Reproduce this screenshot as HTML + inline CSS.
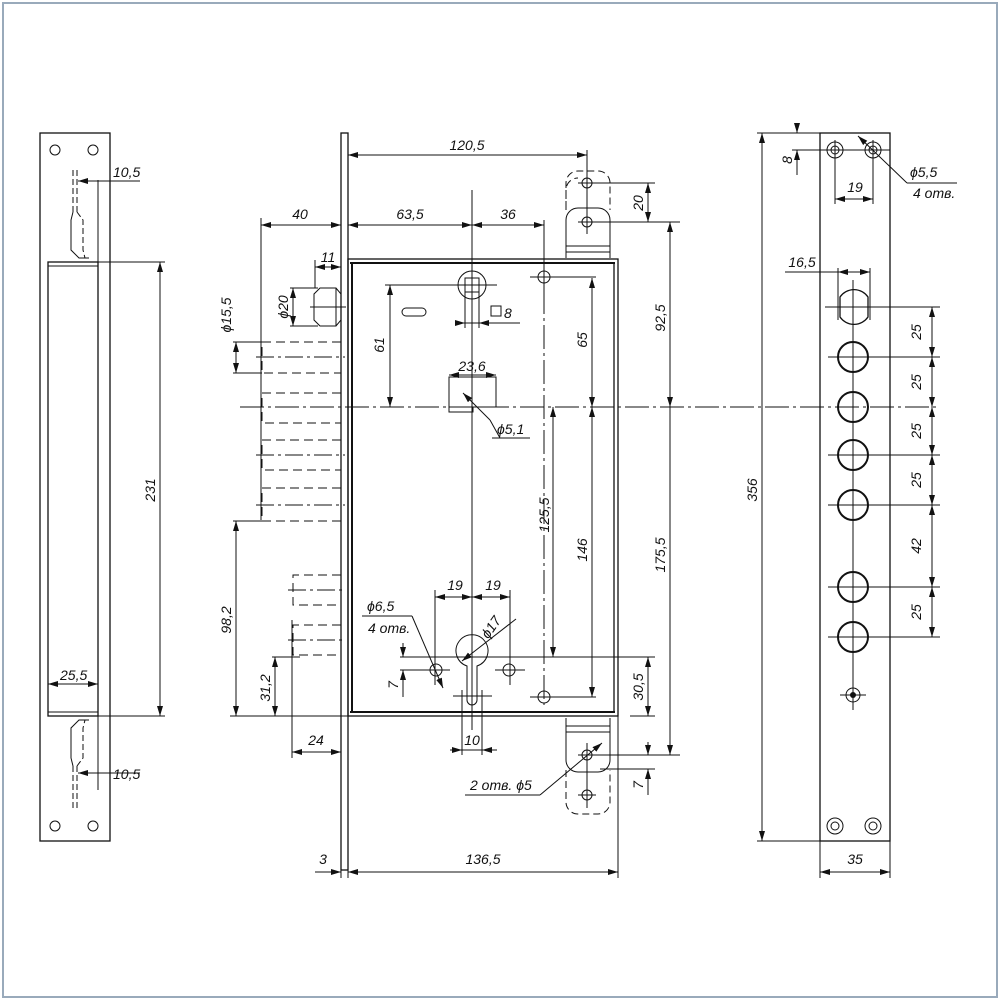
<!DOCTYPE html>
<html><head><meta charset="utf-8"><style>
html,body{margin:0;padding:0;background:#fff}
svg{display:block}
text{font-family:"Liberation Sans",sans-serif;font-style:italic;font-size:14px;fill:#111}
</style></head><body>
<svg width="1000" height="1000" viewBox="0 0 1000 1000" xmlns="http://www.w3.org/2000/svg">
<defs>
<marker id="a" viewBox="0 0 10 6" refX="10" refY="3" markerWidth="10" markerHeight="6" orient="auto-start-reverse" markerUnits="userSpaceOnUse"><path d="M0,0L10,3L0,6z" fill="#111"/></marker>
</defs>
<rect x="3" y="3" width="994" height="994" fill="none" stroke="#9ab" stroke-width="2"/>
<g fill="none" stroke="#111" stroke-width="1">
<!-- LEFT STRIP -->
<rect x="40" y="133" width="70" height="708" stroke-width="1.3"/>
<circle cx="55" cy="150" r="5"/><circle cx="93" cy="150" r="5"/>
<circle cx="55" cy="826" r="5"/><circle cx="93" cy="826" r="5"/>
<line x1="98" y1="180" x2="98" y2="790"/>
<rect x="48" y="262" width="50" height="454" stroke-width="1.3"/>
<line x1="48" y1="266" x2="98" y2="266"/><line x1="48" y1="712" x2="98" y2="712"/>
<path d="M73 170V212" stroke-dasharray="6 3"/><path d="M77 170V212" stroke-dasharray="6 3"/>
<path d="M73 212l-2 8V250l8 8h10" /><path d="M77 212l6 8V250l2 8" stroke-dasharray="6 3"/>
<path d="M73 808V766" stroke-dasharray="6 3"/><path d="M77 808V766" stroke-dasharray="6 3"/>
<path d="M73 766l-2 -8V728l8 -8h10"/><path d="M77 766l6 -8V728l2 -8" stroke-dasharray="6 3"/>
<line x1="98" y1="262" x2="165" y2="262"/><line x1="98" y1="716" x2="165" y2="716"/>
<line x1="160" y1="262" x2="160" y2="716" marker-start="url(#a)" marker-end="url(#a)"/>
<line x1="78" y1="181" x2="98" y2="181" marker-start="url(#a)"/><line x1="98" y1="181" x2="140" y2="181"/>
<line x1="78" y1="773" x2="98" y2="773" marker-start="url(#a)"/><line x1="98" y1="773" x2="140" y2="773"/>
<line x1="48" y1="684" x2="98" y2="684" marker-start="url(#a)" marker-end="url(#a)"/>
<!-- FACEPLATE + BOX -->
<rect x="341" y="133" width="7" height="737" stroke-width="1.3"/>
<rect x="348" y="259" width="270" height="457" stroke-width="1.3"/>
<line x1="352" y1="263" x2="352" y2="712" stroke-width="2"/><line x1="614" y1="263" x2="614" y2="712" stroke-width="1.3"/>
<line x1="350" y1="263" x2="615" y2="263" stroke-width="2"/><line x1="350" y1="712" x2="615" y2="712" stroke-width="2"/>
<!-- top dims -->
<line x1="587" y1="150" x2="587" y2="185"/>
<line x1="348" y1="155" x2="587" y2="155" marker-start="url(#a)" marker-end="url(#a)"/>
<line x1="261" y1="218" x2="261" y2="520"/>
<line x1="261" y1="225" x2="341" y2="225" marker-start="url(#a)" marker-end="url(#a)"/>
<line x1="348" y1="225" x2="472" y2="225" marker-start="url(#a)" marker-end="url(#a)"/>
<line x1="472" y1="225" x2="544" y2="225" marker-start="url(#a)" marker-end="url(#a)"/>
<line x1="544" y1="220" x2="544" y2="290"/>
<line x1="315" y1="260" x2="315" y2="288"/>
<line x1="315" y1="267" x2="341" y2="267" marker-start="url(#a)" marker-end="url(#a)"/>
<path d="M320 288h16l5 6v26l-5 6h-16l-6-6v-26z"/><line x1="336" y1="288" x2="336" y2="326"/>
<line x1="310" y1="307" x2="346" y2="307"/>
<line x1="290" y1="288" x2="318" y2="288"/><line x1="290" y1="326" x2="318" y2="326"/>
<line x1="293" y1="288" x2="293" y2="326" marker-start="url(#a)" marker-end="url(#a)"/>
<!-- spindle -->
<circle cx="472" cy="285" r="14"/><rect x="465" y="278" width="14" height="14"/>
<line x1="465" y1="292" x2="465" y2="328"/><line x1="479" y1="292" x2="479" y2="328"/>
<line x1="385" y1="285" x2="497" y2="285"/>
<line x1="455" y1="323" x2="465" y2="323" marker-end="url(#a)"/><line x1="465" y1="323" x2="479" y2="323"/><line x1="479" y1="323" x2="520" y2="323" marker-start="url(#a)"/>
<rect x="491" y="306" width="10" height="10"/>
<rect x="402" y="308" width="24" height="8" rx="4"/>
<line x1="390" y1="285" x2="390" y2="407" marker-start="url(#a)" marker-end="url(#a)"/>
<circle cx="544" cy="277" r="6"/><line x1="530" y1="277" x2="596" y2="277"/>
<line x1="592" y1="278" x2="592" y2="407" marker-start="url(#a)" marker-end="url(#a)"/>
<rect x="449" y="377" width="47" height="30"/><rect x="449" y="407" width="24" height="5"/>
<line x1="449" y1="375" x2="496" y2="375" marker-start="url(#a)" marker-end="url(#a)"/>
<line x1="463" y1="393" x2="490" y2="420" marker-start="url(#a)"/><line x1="490" y1="420" x2="500" y2="438"/><line x1="492" y1="438" x2="530" y2="438"/>
<line x1="472" y1="190" x2="472" y2="730"/>
<line x1="240" y1="407" x2="940" y2="407" stroke-dasharray="24 4 3 4"/>
<line x1="544" y1="290" x2="544" y2="705" stroke-dasharray="24 4 3 4"/>
<!-- bolts -->
<g stroke-dasharray="9 5">
<path d="M341 342H262V373H341"/><path d="M341 393H262V423H341"/><path d="M341 440H262V470H341"/><path d="M341 488H262V521H341"/>
<path d="M341 575H293V605H341"/><path d="M341 625H293V655H341"/>
</g>
<g stroke-dasharray="18 4 3 4"><line x1="256" y1="357" x2="345" y2="357"/><line x1="256" y1="455" x2="345" y2="455"/><line x1="256" y1="505" x2="345" y2="505"/><line x1="288" y1="590" x2="345" y2="590"/><line x1="288" y1="640" x2="345" y2="640"/></g>
<line x1="233" y1="342" x2="262" y2="342"/><line x1="233" y1="373" x2="262" y2="373"/>
<line x1="236" y1="342" x2="236" y2="373" marker-start="url(#a)" marker-end="url(#a)"/>
<line x1="233" y1="521" x2="262" y2="521"/>
<line x1="236" y1="521" x2="236" y2="716" marker-start="url(#a)" marker-end="url(#a)"/>
<line x1="230" y1="716" x2="348" y2="716"/>
<line x1="272" y1="657" x2="300" y2="657"/>
<line x1="275" y1="657" x2="275" y2="716" marker-start="url(#a)" marker-end="url(#a)"/>
<line x1="292" y1="620" x2="292" y2="758"/>
<line x1="292" y1="752" x2="341" y2="752" marker-start="url(#a)" marker-end="url(#a)"/>
<!-- cylinder -->
<path d="M467 666A16 16 0 1 1 477 666V700A5 5 0 0 1 467 700Z"/>
<line x1="453" y1="696" x2="492" y2="696"/>
<line x1="462" y1="690" x2="462" y2="755"/><line x1="482" y1="690" x2="482" y2="755"/>
<line x1="450" y1="750" x2="462" y2="750" marker-end="url(#a)"/><line x1="482" y1="750" x2="497" y2="750" marker-start="url(#a)"/><line x1="462" y1="750" x2="482" y2="750"/>
<circle cx="436" cy="670" r="6"/><circle cx="509" cy="670" r="6"/>
<line x1="400" y1="670" x2="450" y2="670"/><line x1="495" y1="670" x2="525" y2="670"/>
<line x1="435" y1="590" x2="435" y2="685"/><line x1="510" y1="590" x2="510" y2="685"/>
<line x1="435" y1="597" x2="472" y2="597" marker-start="url(#a)" marker-end="url(#a)"/>
<line x1="472" y1="597" x2="510" y2="597" marker-start="url(#a)" marker-end="url(#a)"/>
<line x1="462" y1="661" x2="516" y2="619" marker-start="url(#a)"/>
<line x1="362" y1="616" x2="412" y2="616"/><line x1="412" y1="616" x2="443" y2="688" marker-end="url(#a)"/>
<line x1="400" y1="657" x2="655" y2="657"/>
<line x1="403" y1="643" x2="403" y2="657" marker-end="url(#a)"/><line x1="403" y1="670" x2="403" y2="697" marker-start="url(#a)"/>
<circle cx="544" cy="697" r="6"/><line x1="530" y1="697" x2="596" y2="697"/>
<line x1="553" y1="407" x2="553" y2="657" marker-start="url(#a)" marker-end="url(#a)"/>
<line x1="592" y1="407" x2="592" y2="697" marker-start="url(#a)" marker-end="url(#a)"/>
<line x1="630" y1="716" x2="655" y2="716"/>
<line x1="648" y1="657" x2="648" y2="716" marker-start="url(#a)" marker-end="url(#a)"/>
<!-- strike tabs -->
<path d="M566 208V190a12 12 0 0 1 12-12" stroke-dasharray="7 4"/>
<path d="M566 210V183a12 12 0 0 1 12-12h20a12 12 0 0 1 12 12V210" stroke-dasharray="7 4"/>
<path d="M566 258V220a12 12 0 0 1 12-12h20a12 12 0 0 1 12 12V258"/>
<line x1="566" y1="246" x2="610" y2="246"/><line x1="566" y1="252" x2="610" y2="252"/>
<circle cx="587" cy="183" r="5"/><circle cx="587" cy="222" r="5"/>
<line x1="587" y1="172" x2="587" y2="234"/>
<line x1="578" y1="183" x2="655" y2="183"/><line x1="578" y1="222" x2="680" y2="222"/>
<line x1="648" y1="183" x2="648" y2="222" marker-start="url(#a)" marker-end="url(#a)"/>
<line x1="670" y1="222" x2="670" y2="407" marker-start="url(#a)" marker-end="url(#a)"/>
<line x1="670" y1="407" x2="670" y2="755" marker-end="url(#a)"/>
<path d="M566 718V760a12 12 0 0 0 12 12h20a12 12 0 0 0 12-12V718"/>
<line x1="566" y1="726" x2="610" y2="726"/><line x1="566" y1="732" x2="610" y2="732"/>
<path d="M566 770V802a12 12 0 0 0 12 12h20a12 12 0 0 0 12-12V770" stroke-dasharray="7 4"/>
<circle cx="587" cy="755" r="5"/><circle cx="587" cy="795" r="5"/>
<line x1="587" y1="743" x2="587" y2="808"/><line x1="578" y1="795" x2="596" y2="795"/>
<line x1="578" y1="755" x2="680" y2="755"/><line x1="600" y1="769" x2="655" y2="769"/>
<line x1="648" y1="742" x2="648" y2="755" marker-end="url(#a)"/><line x1="648" y1="769" x2="648" y2="795" marker-start="url(#a)"/>
<line x1="465" y1="795" x2="540" y2="795"/><line x1="540" y1="795" x2="602" y2="743" marker-end="url(#a)"/>
<!-- bottom dims -->
<line x1="618" y1="716" x2="618" y2="878"/><line x1="348" y1="716" x2="348" y2="878"/><line x1="341" y1="870" x2="341" y2="878"/>
<line x1="315" y1="872" x2="341" y2="872" marker-end="url(#a)"/>
<line x1="348" y1="872" x2="618" y2="872" marker-start="url(#a)" marker-end="url(#a)"/>
<!-- RIGHT STRIP -->
<rect x="820" y="133" width="70" height="708" stroke-width="1.3"/>
<circle cx="835" cy="150" r="8"/><circle cx="835" cy="150" r="4"/><circle cx="873" cy="150" r="8"/><circle cx="873" cy="150" r="4"/>
<circle cx="835" cy="826" r="8"/><circle cx="835" cy="826" r="4"/><circle cx="873" cy="826" r="8"/><circle cx="873" cy="826" r="4"/>
<line x1="757" y1="133" x2="820" y2="133"/><line x1="757" y1="841" x2="820" y2="841"/>
<line x1="762" y1="133" x2="762" y2="841" marker-start="url(#a)" marker-end="url(#a)"/>
<line x1="792" y1="150" x2="890" y2="150"/>
<line x1="797" y1="123" x2="797" y2="133" marker-end="url(#a)"/><line x1="797" y1="150" x2="797" y2="175" marker-start="url(#a)"/>
<line x1="835" y1="140" x2="835" y2="204"/><line x1="873" y1="140" x2="873" y2="204"/>
<line x1="835" y1="199" x2="873" y2="199" marker-start="url(#a)" marker-end="url(#a)"/>
<line x1="858" y1="136" x2="907" y2="183" marker-start="url(#a)"/><line x1="907" y1="183" x2="957" y2="183"/>
<line x1="785" y1="272" x2="838" y2="272"/>
<line x1="838" y1="272" x2="870" y2="272" marker-start="url(#a)" marker-end="url(#a)"/>
<line x1="838" y1="268" x2="838" y2="320"/><line x1="870" y1="268" x2="870" y2="320"/>
<path d="M840 297a17 17 0 0 1 28 0v20a17 17 0 0 1-28 0z" stroke-width="1.3"/>
<g stroke-width="2"><circle cx="853" cy="357" r="15"/><circle cx="853" cy="407" r="15"/><circle cx="853" cy="455" r="15"/><circle cx="853" cy="505" r="15"/><circle cx="853" cy="587" r="15"/><circle cx="853" cy="637" r="15"/></g>
<circle cx="853" cy="695" r="7"/>
<line x1="853" y1="280" x2="853" y2="710"/>
<line x1="840" y1="695" x2="866" y2="695"/>
<line x1="825" y1="307" x2="940" y2="307"/><line x1="828" y1="357" x2="940" y2="357"/><line x1="828" y1="455" x2="940" y2="455"/><line x1="828" y1="505" x2="940" y2="505"/><line x1="828" y1="587" x2="940" y2="587"/><line x1="828" y1="637" x2="940" y2="637"/>
<g marker-start="url(#a)" marker-end="url(#a)">
<line x1="932" y1="307" x2="932" y2="357"/><line x1="932" y1="357" x2="932" y2="407"/><line x1="932" y1="407" x2="932" y2="455"/><line x1="932" y1="455" x2="932" y2="505"/><line x1="932" y1="505" x2="932" y2="587"/><line x1="932" y1="587" x2="932" y2="637"/>
</g>
<line x1="820" y1="841" x2="820" y2="878"/><line x1="890" y1="841" x2="890" y2="878"/>
<line x1="820" y1="872" x2="890" y2="872" marker-start="url(#a)" marker-end="url(#a)"/>
</g>
<circle cx="853" cy="695" r="3" fill="#111"/>
<!-- TEXT -->
<text x="113" y="177">10,5</text>
<text x="113" y="779">10,5</text>
<text x="60" y="680">25,5</text>
<text transform="translate(155,490) rotate(-90)" text-anchor="middle">231</text>
<text x="467" y="150" text-anchor="middle">120,5</text>
<text x="300" y="219" text-anchor="middle">40</text>
<text x="410" y="219" text-anchor="middle">63,5</text>
<text x="508" y="219" text-anchor="middle">36</text>
<text x="328" y="262" text-anchor="middle">11</text>
<text transform="translate(288,307) rotate(-90)" text-anchor="middle">ϕ20</text>
<text transform="translate(231,315) rotate(-90)" text-anchor="middle">ϕ15,5</text>
<text x="504" y="318">8</text>
<text transform="translate(384,345) rotate(-90)" text-anchor="middle">61</text>
<text transform="translate(587,340) rotate(-90)" text-anchor="middle">65</text>
<text x="472" y="371" text-anchor="middle">23,6</text>
<text x="497" y="434">ϕ5,1</text>
<text transform="translate(665,318) rotate(-90)" text-anchor="middle">92,5</text>
<text transform="translate(643,203) rotate(-90)" text-anchor="middle">20</text>
<text transform="translate(549,515) rotate(-90)" text-anchor="middle">125,5</text>
<text transform="translate(587,550) rotate(-90)" text-anchor="middle">146</text>
<text transform="translate(665,555) rotate(-90)" text-anchor="middle">175,5</text>
<text transform="translate(231,620) rotate(-90)" text-anchor="middle">98,2</text>
<text transform="translate(270,688) rotate(-90)" text-anchor="middle">31,2</text>
<text x="455" y="590" text-anchor="middle">19</text>
<text x="493" y="590" text-anchor="middle">19</text>
<text transform="translate(495,630) rotate(-55)" text-anchor="middle">ϕ17</text>
<text x="367" y="611">ϕ6,5</text>
<text x="368" y="633">4 отв.</text>
<text transform="translate(398,685) rotate(-90)" text-anchor="middle">7</text>
<text transform="translate(643,687) rotate(-90)" text-anchor="middle">30,5</text>
<text transform="translate(643,785) rotate(-90)" text-anchor="middle">7</text>
<text x="470" y="790">2 отв. ϕ5</text>
<text x="472" y="745" text-anchor="middle">10</text>
<text x="316" y="745" text-anchor="middle">24</text>
<text x="323" y="864" text-anchor="middle">3</text>
<text x="483" y="864" text-anchor="middle">136,5</text>
<text transform="translate(792,160) rotate(-90)" text-anchor="middle">8</text>
<text x="855" y="192" text-anchor="middle">19</text>
<text x="910" y="177">ϕ5,5</text>
<text x="913" y="198">4 отв.</text>
<text x="802" y="267" text-anchor="middle">16,5</text>
<text transform="translate(757,490) rotate(-90)" text-anchor="middle">356</text>
<text transform="translate(921,332) rotate(-90)" text-anchor="middle">25</text>
<text transform="translate(921,382) rotate(-90)" text-anchor="middle">25</text>
<text transform="translate(921,431) rotate(-90)" text-anchor="middle">25</text>
<text transform="translate(921,480) rotate(-90)" text-anchor="middle">25</text>
<text transform="translate(921,546) rotate(-90)" text-anchor="middle">42</text>
<text transform="translate(921,612) rotate(-90)" text-anchor="middle">25</text>
<text x="855" y="864" text-anchor="middle">35</text>
</svg>
</body></html>
